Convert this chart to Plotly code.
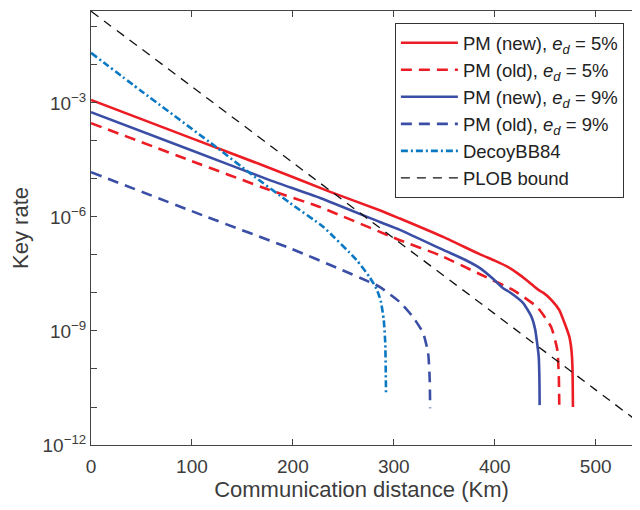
import plotly.graph_objects as go

# ---------------- data ----------------
new5_km = [0, 100, 177, 237, 286, 306, 350, 385, 400, 412, 422, 432, 440, 444, 448, 456, 464, 470, 474, 476, 477, 477.5]
new5_rate = [1.20e-3, 1.17e-4, 1.95e-5, 4.57e-6, 1.51e-6, 9.1e-7, 2.9e-7, 1.05e-7, 7.08e-8, 5.0e-8,
             3.39e-8, 2.14e-8, 1.41e-8, 1.17e-8, 1.02e-8, 6.6e-9, 3.55e-9, 1.41e-9, 6.9e-10, 3.16e-10,
             1.12e-10, 1.0e-11]

old5_km = [0, 100, 177, 227, 306, 345, 385, 418, 442, 456, 462, 463.5, 464]
old5_rate = [2.95e-4, 2.95e-5, 5.13e-6, 1.82e-6, 2.45e-7, 1.0e-7, 3.16e-8, 1.20e-8, 4.27e-9,
             1.26e-9, 3.16e-10, 6.3e-11, 8.3e-12]

new9_km = [0, 100, 177, 227, 286, 306, 350, 370, 385, 398, 408, 416, 428, 436, 440, 443.6, 444.3, 444.5]
new9_rate = [5.75e-4, 5.62e-5, 9.33e-6, 3.16e-6, 7.41e-7, 4.57e-7, 1.32e-7, 7.6e-8, 4.57e-8, 2.4e-8,
             1.35e-8, 1.0e-8, 5.5e-9, 2.51e-9, 1.12e-9, 2.09e-10, 5.0e-11, 1.12e-11]

old9_km = [0, 115, 197, 246.5, 276, 286, 306, 319, 329, 334, 335.6, 336]
old9_rate = [1.51e-5, 1.0e-6, 1.51e-7, 4.27e-8, 1.95e-8, 1.45e-8, 5.75e-9, 2.34e-9, 8.9e-10,
             2.63e-10, 5.1e-11, 9.3e-12]

bb84_km = [0, 50, 125, 157, 197, 230, 263, 276, 283, 287, 290, 291.5, 292, 292.3]
bb84_rate = [2.09e-2, 2.04e-3, 6.6e-5, 1.45e-5, 2.34e-6, 5.5e-7, 7.41e-8, 2.63e-8, 1.26e-8,
             6.3e-9, 2.0e-9, 5.0e-10, 1.0e-10, 2.0e-11]

plob_km = [0, 100, 200, 300, 400, 500, 545]
plob_rate = [2.6e-1, 2.69e-3, 2.69e-5, 2.75e-7, 2.82e-9, 2.82e-11, 3.6e-12]

series_names = [
    "PM (new), <i>e</i><sub><i>d</i></sub> = 5%",
    "PM (old), <i>e</i><sub><i>d</i></sub> = 5%",
    "PM (new), <i>e</i><sub><i>d</i></sub> = 9%",
    "PM (old), <i>e</i><sub><i>d</i></sub> = 9%",
    "DecoyBB84",
    "PLOB bound",
]

y_major_exps = [-12, -9, -6, -3]
y_major_text = ["10<sup>\u221212</sup>", "10<sup>\u22129</sup>",
                "10<sup>\u22126</sup>", "10<sup>\u22123</sup>"]
y_minor_exps = list(range(-12, 0))
x_ticks = [0, 100, 200, 300, 400, 500]

# ---------------- figure ----------------
RED = "#EC1C24"
BLUE = "#3A4EA6"
LBLUE = "#0A78C2"

fig = go.Figure()
styles = [
    (new5_km, new5_rate, RED, 2.6, "solid"),
    (old5_km, old5_rate, RED, 2.6, "11px,7px"),
    (new9_km, new9_rate, BLUE, 2.6, "solid"),
    (old9_km, old9_rate, BLUE, 2.6, "11px,7px"),
    (bb84_km, bb84_rate, LBLUE, 2.6, "7px,3px,2px,3px"),
    (plob_km, plob_rate, "#111111", 1.3, "9px,7px"),
]
for (xs, ys, col, w, dash), name in zip(styles, series_names):
    fig.add_trace(go.Scatter(x=xs, y=ys, mode="lines", name=name,
                             line=dict(color=col, width=w, dash=dash, shape="spline", smoothing=0.5)))

FONT = "Liberation Sans, Arial, Helvetica, sans-serif"
TXT = "#3c3c3c"
AX = "#444444"

fig.update_layout(
    width=624, height=494,
    margin=dict(l=83, r=0, t=3, b=57),
    paper_bgcolor="white", plot_bgcolor="white",
    font=dict(family=FONT, size=19, color=TXT),
    showlegend=True,
    legend=dict(
        x=0.985, y=0.972, xanchor="right", yanchor="top",
        bgcolor="white", bordercolor="#333333", borderwidth=1,
        font=dict(family=FONT, size=18.5, color="#222222"),
        itemwidth=57, tracegroupgap=0,
    ),
    xaxis=dict(
        range=[0, 536], tickvals=x_ticks, ticktext=[str(v) for v in x_ticks],
        ticks="inside", ticklen=6, tickcolor=AX, showline=True, linecolor=AX, linewidth=1,
        mirror="ticks", showgrid=False, zeroline=False, automargin=False,
        ticklabelstandoff=4,
        title=dict(text="Communication distance (Km)", font=dict(size=22, color=TXT), standoff=13),
        tickfont=dict(size=19, color=TXT),
    ),
    yaxis=dict(
        type="log", range=[-12, -0.58],
        tickvals=[10.0 ** e for e in y_major_exps],
        ticktext=y_major_text,
        ticks="inside", ticklen=6, tickcolor=AX, showline=True, linecolor=AX, linewidth=1,
        minor=dict(tickvals=[10.0 ** e for e in y_minor_exps], ticks="inside", ticklen=6, tickcolor=AX),
        showgrid=False, zeroline=False, automargin=False,
        title=dict(text="Key rate", font=dict(size=22, color=TXT), standoff=11),
        tickfont=dict(size=19, color=TXT),
    ),
)

fig.write_html("out.html")
